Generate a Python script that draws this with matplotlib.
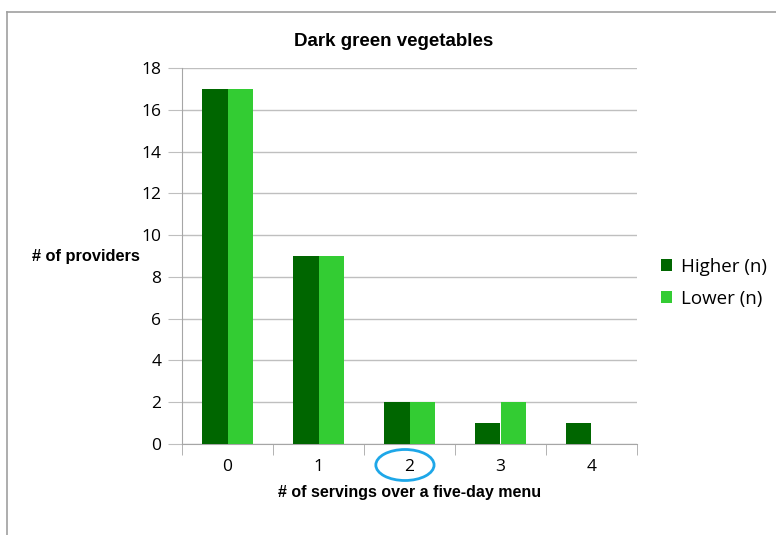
import numpy as np
import matplotlib.pyplot as plt
from matplotlib.patches import Ellipse
from matplotlib.lines import Line2D
import matplotlib.transforms as mtransforms

servings = ["0", "1", "2", "3", "4"]
higher = [17, 9, 2, 1, 1]
lower = [17, 9, 2, 2, 0]

W, H = 776, 535
fig = plt.figure(figsize=(W / 100, H / 100), dpi=100)
ax = fig.add_axes([182 / W, 1 - 444 / H, (637 - 182) / W, (444 - 68) / H])

x = np.arange(len(servings))
bw = 0.275
ax.bar(x - bw / 2, higher, bw, color="#006600", label="Higher (n)", zorder=3)
ax.bar(x + bw / 2, lower, bw, color="#33cc33", label="Lower (n)", zorder=3)

ax.set_xlim(-0.5, 4.5)
ax.set_ylim(0, 18)
ax.set_yticks(range(0, 19, 2))
ax.yaxis.grid(True, color="#bfbfbf", lw=1, zorder=0)

tick_font = ["Open Sans", "DejaVu Sans"]
ax.set_xticks(x)
ax.set_xticklabels(servings, fontsize=12.5, family=tick_font)
ax.tick_params(axis="x", length=0, pad=11)
ax.set_xticks(np.arange(-0.5, 5, 1), minor=True)
ax.tick_params(axis="x", which="minor", length=8, color="#a6a6a6")
for lab in ax.get_yticklabels():
    lab.set_fontsize(12.5)
    lab.set_family(tick_font)
ax.tick_params(axis="y", length=10, color="#bfbfbf", pad=5)

for s in ["top", "right"]:
    ax.spines[s].set_visible(False)
for s in ["left", "bottom"]:
    ax.spines[s].set_color("#a6a6a6")

fig.text(394 / W, 1 - 41 / H, "Dark green vegetables", ha="center", va="center",
         fontsize=13.5, fontweight="bold", family="Liberation Sans")
fig.text(410 / W, 1 - 492 / H, "# of servings over a five-day menu", ha="center", va="center",
         fontsize=11.5, fontweight="bold", family=["Liberation Sans Narrow", "Liberation Sans"])
fig.text(32 / W, 1 - 257 / H, "# of providers", ha="left", va="center",
         fontsize=11.8, fontweight="bold", family=["Liberation Sans Narrow", "Liberation Sans"])

fig.legend(loc="center left", bbox_to_anchor=(644 / W, 1 - 283 / H), frameon=False,
           prop={"family": tick_font, "size": 13.5}, handlelength=0.6, handleheight=0.6,
           handletextpad=0.45, labelspacing=0.75)

# circle around the "2" tick label
trans = mtransforms.blended_transform_factory(ax.transData, fig.transFigure)
ell = Ellipse((2 - 0.05, 1 - 465 / H), 0.64, 31 / H, transform=trans, fill=False,
              edgecolor="#1ea7e8", lw=2, clip_on=False)
fig.add_artist(ell)

# chart area border
fig.add_artist(Line2D([7 / W, 1], [1 - 12 / H, 1 - 12 / H], color="#a0a0a0", lw=1.2))
fig.add_artist(Line2D([7 / W, 7 / W], [0, 1 - 12 / H], color="#a0a0a0", lw=1.2))

fig.savefig("out.png", dpi=100)
